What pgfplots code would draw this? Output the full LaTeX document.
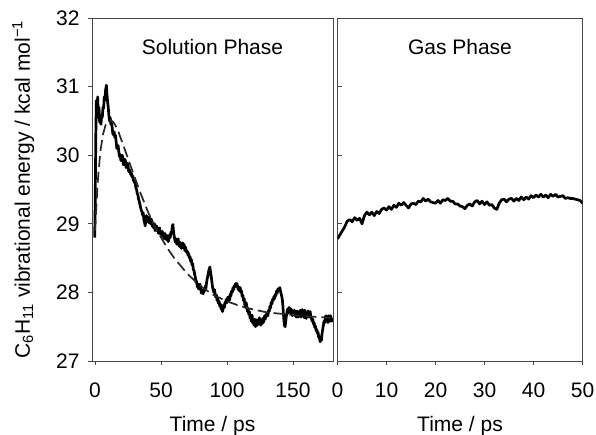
\documentclass[border=0pt]{standalone}
\usepackage{pgfplots}
\pgfplotsset{compat=1.18}
\usepackage{pgfplotstable}
\usepackage{fontspec}
\setmainfont{Liberation Sans}
\definecolor{axgray}{RGB}{70,70,70}
\definecolor{fitgray}{RGB}{40,40,40}
\newcommand{\fs}{\fontsize{21bp}{25bp}\selectfont}

% solution phase trajectory
\pgfplotstableread{
x y
-0.3 28.80
0.0 29.10
0.3 29.70
0.6 30.30
1.0 30.80
1.5 30.62
2.0 30.85
2.5 30.55
3.0 30.70
3.5 30.48
4.0 30.52
4.5 30.45
5.0 30.58
5.5 30.55
6.0 30.70
6.5 30.68
7.0 30.85
7.5 30.80
8.0 30.95
8.6 31.02
9.0 30.90
9.5 30.78
10.0 30.70
10.5 30.58
11.0 30.50
11.5 30.55
12 30.45
12.5 30.47
13 30.40
13.5 30.31
14 30.30
14.5 30.34
15 30.26
15.5 30.29
16 30.20
16.5 30.10
17 30.12
17.5 30.14
18 30.05
18.5 29.98
19 30.01
19.5 29.93
20 29.92
20.5 30.00
21 29.97
21.5 29.86
22 29.88
22.5 29.94
23 29.92
23.5 29.82
24 29.84
24.5 29.88
25 29.85
25.5 29.76
26 29.79
26.5 29.77
27 29.72
27.5 29.74
28 29.68
28.5 29.70
29 29.64
29.5 29.62
30 29.60
30.5 29.58
31 29.52
31.5 29.50
32 29.44
32.5 29.42
33 29.36
33.5 29.33
34 29.28
34.5 29.24
35 29.20
35.5 29.18
36 29.13
36.5 29.16
37 29.06
37.5 29.02
38 28.97
38.5 29.06
39 29.12
39.5 29.04
40 29.08
40.5 29.02
41 29.10
41.5 29.05
42 29.00
42.5 29.07
43 29.04
43.5 28.96
44 29.00
44.5 28.94
45 29.00
45.5 28.90
46 28.93
46.5 28.97
47 28.90
47.5 28.94
48 28.86
48.5 28.91
49 28.94
49.5 28.85
50 28.88
50.5 28.83
51 28.89
51.5 28.81
52 28.84
52.5 28.78
53 28.86
53.5 28.80
54 28.77
54.5 28.83
55 28.78
55.5 28.74
56 28.78
56.5 28.84
57 28.80
57.5 28.88
58 28.86
58.5 28.96
59 28.99
59.5 28.88
60 28.82
60.5 28.76
61 28.73
61.5 28.78
62 28.70
62.5 28.75
63 28.78
63.5 28.70
64 28.67
64.5 28.73
65 28.70
65.5 28.64
66 28.68
66.5 28.72
67 28.66
67.5 28.70
68 28.61
68.5 28.66
69 28.62
69.5 28.58
70 28.60
70.5 28.54
71 28.57
71.5 28.50
72 28.52
72.5 28.45
73 28.48
73.5 28.40
74 28.42
74.5 28.33
75 28.32
75.5 28.26
76 28.22
76.5 28.15
77 28.16
77.5 28.08
78 28.12
78.5 28.05
79 28.08
79.5 28.12
80 28.06
80.5 27.99
81 28.03
81.5 28.00
82 27.98
82.5 28.05
83 28.02
83.5 28.09
84 28.06
84.5 28.14
85 28.20
85.5 28.24
86 28.30
86.5 28.34
87 28.37
87.5 28.30
88 28.24
88.5 28.16
89 28.08
89.5 28.04
90 28.00
90.5 28.04
91 27.97
91.5 27.93
92 27.96
92.5 27.88
93 27.91
93.5 27.84
94 27.87
94.5 27.80
95 27.83
95.5 27.76
96 27.78
96.5 27.72
97 27.76
97.5 27.82
98 27.78
98.5 27.86
99 27.84
99.5 27.90
100 27.85
100.5 27.93
101 27.90
101.5 27.94
102 27.89
102.5 27.98
103 27.95
103.5 28.02
104 28.00
104.5 28.07
105 28.04
105.5 28.10
106 28.08
106.5 28.13
107 28.11
107.5 28.13
108 28.08
108.5 28.04
109 28.08
109.5 28.02
110 28.07
110.5 28.00
111 28.02
111.5 27.94
112 27.96
112.5 27.88
113 27.91
113.5 27.82
114 27.78
114.5 27.85
115 27.80
115.5 27.72
116 27.76
116.5 27.68
117 27.72
117.5 27.62
118 27.64
118.5 27.58
119 27.67
119.5 27.55
120 27.60
120.5 27.52
121 27.61
121.5 27.50
122 27.56
122.5 27.60
123 27.52
123.5 27.59
124 27.54
124.5 27.63
125 27.57
125.5 27.52
126 27.60
126.5 27.54
127 27.62
127.5 27.56
128 27.60
128.5 27.66
129 27.61
129.5 27.68
130 27.65
130.5 27.70
131 27.66
131.5 27.74
132 27.72
132.5 27.80
133 27.77
133.5 27.86
134 27.83
134.5 27.90
135 27.88
135.5 27.94
136 27.91
136.5 27.97
137 27.95
137.5 28.02
138 27.99
138.5 28.05
139 28.03
139.5 28.06
140 28.07
140.5 28.02
141 27.98
141.5 27.94
142 27.88
142.5 27.76
143 27.62
143.5 27.52
144 27.50
144.5 27.58
145 27.66
145.5 27.72
146 27.76
146.5 27.70
147 27.78
147.5 27.72
148 27.70
148.5 27.76
149 27.72
149.5 27.66
150 27.73
150.5 27.68
151 27.74
151.5 27.66
152 27.70
152.5 27.64
153 27.73
153.5 27.67
154 27.64
154.5 27.72
155 27.68
155.5 27.74
156 27.64
156.5 27.70
157 27.75
157.5 27.66
158 27.70
158.5 27.63
159 27.74
159.5 27.66
160 27.62
160.5 27.70
161 27.66
161.5 27.73
162 27.64
162.5 27.70
163 27.72
163.5 27.64
164 27.62
164.5 27.58
165 27.61
165.5 27.54
166 27.56
166.5 27.49
167 27.51
167.5 27.44
168 27.46
168.5 27.40
169 27.42
169.5 27.34
170 27.36
170.5 27.28
171 27.32
171.5 27.30
172 27.40
172.5 27.46
173 27.52
173.5 27.58
174 27.56
174.5 27.64
175 27.66
175.5 27.58
176 27.62
176.5 27.56
177 27.66
177.5 27.60
178 27.58
178.5 27.66
179 27.62
179.5 27.58
180 27.62
}\solution

% fitted curve (dashed)
\pgfplotstableread{
x y
0 28.90
2 29.60
4 30.05
6 30.30
8 30.44
10 30.50
12 30.51
14 30.48
17 30.38
20 30.22
25 29.95
30 29.68
35 29.42
40 29.18
45 28.97
50 28.80
55 28.64
60 28.50
70 28.27
80 28.09
90 27.96
100 27.87
110 27.80
120 27.75
130 27.71
140 27.69
150 27.67
160 27.65
170 27.64
178 27.63
}\fit

% gas phase trajectory
\pgfplotstableread{
x y
0.0 28.78
0.5 28.84
1.0 28.90
1.5 28.96
2.0 29.04
2.5 29.06
3.0 29.03
3.5 29.09
4.0 29.05
4.5 29.08
5.0 29.00
5.5 29.12
6.0 29.17
6.5 29.13
7.0 29.17
7.5 29.12
8.0 29.18
8.5 29.15
9.0 29.21
9.5 29.23
10.0 29.20
10.5 29.25
11.0 29.21
11.5 29.27
12.0 29.24
12.5 29.30
13.0 29.27
13.5 29.31
14.0 29.27
14.5 29.23
15.0 29.29
15.5 29.30
16.0 29.28
16.5 29.33
17.0 29.32
17.5 29.37
18.0 29.33
18.5 29.36
19.0 29.32
19.5 29.31
20.0 29.30
20.5 29.34
21.0 29.30
21.5 29.35
22.0 29.34
22.5 29.37
23.0 29.33
23.5 29.33
24.0 29.29
24.5 29.29
25.0 29.26
25.5 29.25
26.0 29.22
26.5 29.27
27.0 29.29
27.5 29.26
28.0 29.32
28.5 29.34
29.0 29.29
29.5 29.33
30.0 29.28
30.5 29.32
31.0 29.27
31.5 29.28
32.0 29.23
32.5 29.21
33.0 29.30
33.5 29.35
34.0 29.36
34.5 29.32
35.0 29.36
35.5 29.37
36.0 29.33
36.5 29.37
37.0 29.34
37.5 29.39
38.0 29.35
38.5 29.39
39.0 29.36
39.5 29.41
40.0 29.38
40.5 29.42
41.0 29.39
41.5 29.43
42.0 29.39
42.5 29.42
43.0 29.38
43.5 29.43
44.0 29.40
44.5 29.43
45.0 29.39
45.5 29.40
46.0 29.41
46.5 29.37
47.0 29.38
47.5 29.37
48.0 29.37
48.5 29.36
49.0 29.35
49.5 29.34
50.0 29.30
}\gas

\pgfplotsset{
  panel/.style={
    scale only axis,
    height=343bp,
    ymin=27, ymax=32,
    ytick={27,28,29,30,31,32},
    axis line style={axgray, line width=0.9bp},
    tick style={axgray, line width=0.9bp},
    major tick length=4bp,
    tick align=outside,
    xtick pos=left, ytick pos=left,
    tick label style={font=\fs},
    /pgf/number format/assume math mode=true,
    xticklabel style={anchor=base, yshift=-32bp},
    xlabel={Time / ps},
    xlabel style={font=\fs, at={(axis description cs:0.5,0)}, anchor=base, yshift=-70bp},
  },
  trace/.style={black, line width=2.7bp, line join=round},
}

\begin{document}
\begin{tikzpicture}
\begin{axis}[
    panel,
    at={(92bp,74bp)}, anchor=south west,
    width=241bp,
    xmin=-2.3, xmax=180.3,
    xtick={0,50,100,150},
    yticklabel style={anchor=east, xshift=-5bp},
    ylabel={C\textsubscript{6}H\textsubscript{11} vibrational energy / kcal mol\textsuperscript{−1}},
    ylabel style={font=\fs, at={(axis description cs:-0.285,0.5)}, anchor=center, rotate=0},
]
\addplot[trace] table {\solution};
\addplot[fitgray, line width=1.7bp, dash pattern=on 11bp off 5bp] table {\fit};
\node[font=\fs, anchor=base, yshift=-37bp] at (axis description cs:0.5,1) {Solution Phase};
\end{axis}

\begin{axis}[
    panel,
    at={(337.5bp,74bp)}, anchor=south west,
    width=245bp,
    xmin=0, xmax=50,
    xtick={0,10,20,30,40,50},
    yticklabels={},
    ytick style={xshift=4.5bp},
]
\addplot[trace] table {\gas};
\node[font=\fs, anchor=base, yshift=-37bp] at (axis description cs:0.5,1) {Gas Phase};
\end{axis}

\pgfresetboundingbox
\path (0,0) rectangle (596bp,435bp);
\end{tikzpicture}
\end{document}
